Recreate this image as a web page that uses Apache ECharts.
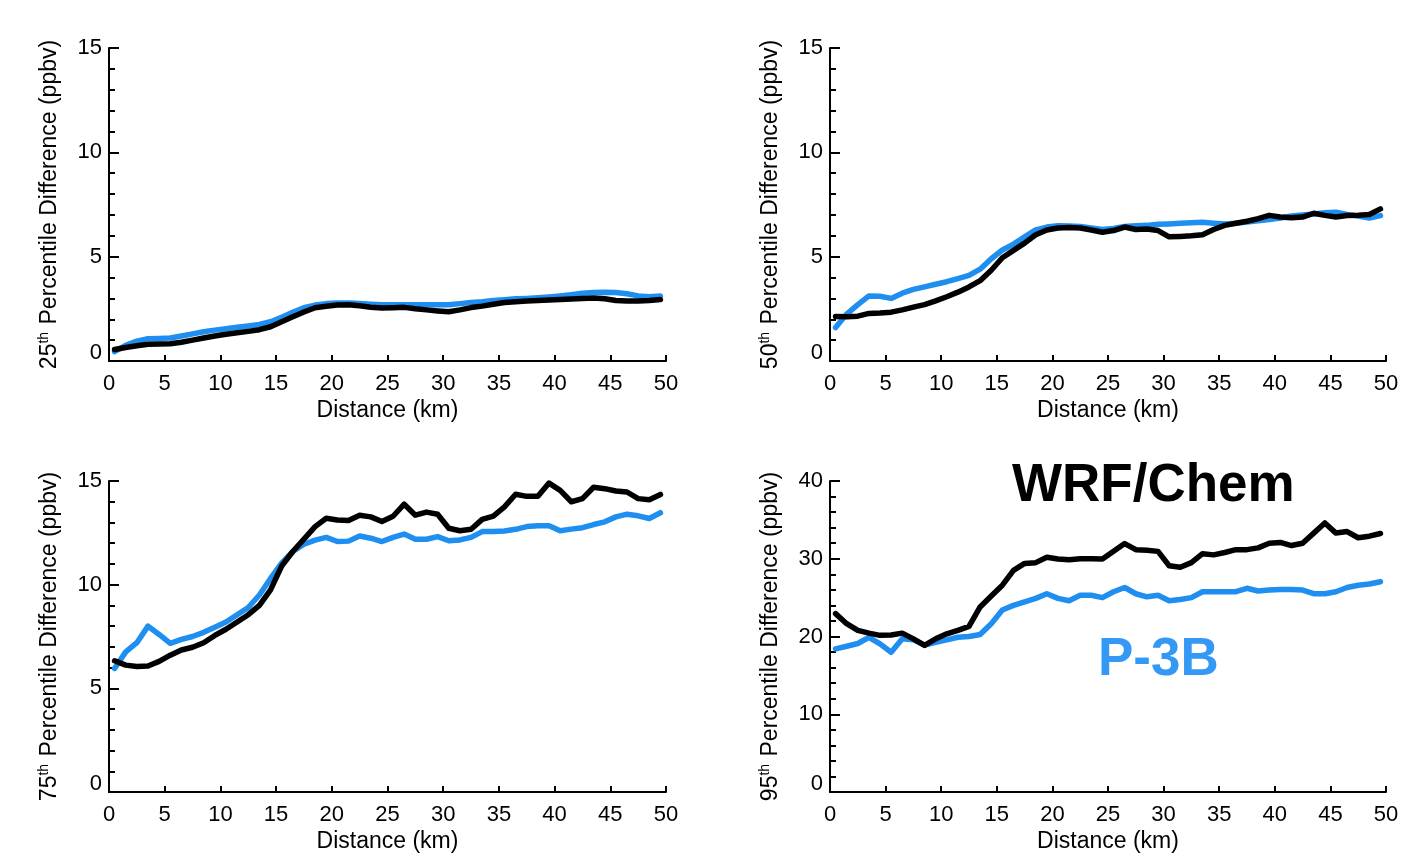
<!DOCTYPE html>
<html>
<head>
<meta charset="utf-8">
<script src="https://cdn.jsdelivr.net/npm/echarts@6/dist/echarts.min.js"></script>
<style>
  html, body { margin: 0; padding: 0; background: #fff; }
  #chart { width: 1413px; height: 854px; }
</style>
</head>
<body>
<div id="chart"></div>
<script>
// Distance from source (km), one sample per 1-km bin
const distanceKm = [0.5, 1.5, 2.5, 3.5, 4.5, 5.5, 6.5, 7.5, 8.5, 9.5,
  10.5, 11.5, 12.5, 13.5, 14.5, 15.5, 16.5, 17.5, 18.5, 19.5,
  20.5, 21.5, 22.5, 23.5, 24.5, 25.5, 26.5, 27.5, 28.5, 29.5,
  30.5, 31.5, 32.5, 33.5, 34.5, 35.5, 36.5, 37.5, 38.5, 39.5,
  40.5, 41.5, 42.5, 43.5, 44.5, 45.5, 46.5, 47.5, 48.5, 49.5];

// 25th percentile difference (ppbv)
const wrf25 = [0.55, 0.65, 0.73, 0.8, 0.82, 0.83, 0.9, 1.0, 1.1, 1.2,
  1.28, 1.35, 1.42, 1.5, 1.64, 1.88, 2.12, 2.35, 2.55, 2.62,
  2.68, 2.7, 2.65, 2.58, 2.54, 2.55, 2.57, 2.5, 2.45, 2.4,
  2.36, 2.45, 2.56, 2.63, 2.72, 2.8, 2.84, 2.87, 2.9, 2.92,
  2.95, 2.97, 3.0, 3.02, 2.98, 2.9, 2.88, 2.88, 2.9, 2.95];
const p3b25 = [0.45, 0.75, 0.95, 1.07, 1.08, 1.1, 1.2, 1.3, 1.4, 1.48,
  1.55, 1.62, 1.68, 1.75, 1.88, 2.1, 2.33, 2.55, 2.68, 2.75,
  2.78, 2.78, 2.75, 2.72, 2.7, 2.7, 2.7, 2.7, 2.7, 2.7,
  2.7, 2.75, 2.8, 2.84, 2.9, 2.94, 2.98, 3.0, 3.03, 3.07,
  3.12, 3.18, 3.25, 3.28, 3.3, 3.28, 3.22, 3.12, 3.08, 3.12];

// 50th percentile difference (ppbv)
const wrf50 = [2.13, 2.12, 2.15, 2.28, 2.3, 2.34, 2.45, 2.58, 2.7, 2.88,
  3.08, 3.3, 3.55, 3.85, 4.35, 4.95, 5.3, 5.65, 6.05, 6.28,
  6.37, 6.4, 6.37, 6.28, 6.17, 6.25, 6.42, 6.3, 6.33, 6.25,
  5.95, 5.97, 6.0, 6.05, 6.3, 6.5, 6.6, 6.7, 6.82, 6.98,
  6.9, 6.87, 6.9, 7.08, 6.98, 6.9, 6.97, 6.98, 7.02, 7.29];
const p3b50 = [1.6, 2.25, 2.7, 3.12, 3.1, 3.0, 3.25, 3.43, 3.55, 3.68,
  3.8, 3.95, 4.1, 4.4, 4.9, 5.32, 5.6, 5.95, 6.28, 6.42,
  6.48, 6.47, 6.45, 6.38, 6.3, 6.35, 6.45, 6.48, 6.5, 6.55,
  6.57, 6.6, 6.62, 6.65, 6.6, 6.56, 6.6, 6.66, 6.72, 6.78,
  6.85, 6.95, 7.0, 7.05, 7.1, 7.13, 7.02, 6.95, 6.85, 6.97];

// 75th percentile difference (ppbv)
const wrf75 = [6.33, 6.12, 6.05, 6.08, 6.3, 6.6, 6.85, 6.98, 7.2, 7.55,
  7.85, 8.2, 8.55, 9.0, 9.75, 10.9, 11.6, 12.2, 12.8, 13.2,
  13.12, 13.1, 13.35, 13.27, 13.05, 13.3, 13.88, 13.35, 13.5, 13.4,
  12.72, 12.6, 12.67, 13.15, 13.31, 13.75, 14.36, 14.26, 14.26, 14.9,
  14.55, 14.0, 14.15, 14.7, 14.63, 14.52, 14.47, 14.15, 14.1, 14.35];
const p3b75 = [5.96, 6.76, 7.2, 8.0, 7.6, 7.17, 7.36, 7.5, 7.7, 7.95,
  8.2, 8.55, 8.9, 9.5, 10.3, 11.04, 11.6, 11.95, 12.15, 12.28,
  12.08, 12.1, 12.35, 12.24, 12.08, 12.28, 12.44, 12.19, 12.19, 12.32,
  12.12, 12.16, 12.28, 12.56, 12.56, 12.59, 12.67, 12.8, 12.84, 12.84,
  12.6, 12.68, 12.75, 12.9, 13.03, 13.27, 13.4, 13.32, 13.19, 13.47];

// 95th percentile difference (ppbv)
const wrf95 = [22.94, 21.65, 20.78, 20.43, 20.15, 20.2, 20.43, 19.7, 18.85, 19.7,
  20.35, 20.78, 21.3, 23.8, 25.2, 26.6, 28.5, 29.4, 29.5, 30.2,
  29.96, 29.87, 30.0, 30.0, 29.96, 30.95, 31.95, 31.17, 31.08, 30.95,
  29.1, 28.9, 29.5, 30.65, 30.5, 30.8, 31.17, 31.17, 31.4, 32.0,
  32.1, 31.7, 32.0, 33.3, 34.6, 33.3, 33.5, 32.7, 32.9, 33.25];
const p3b95 = [18.4, 18.75, 19.1, 19.9, 19.05, 17.97, 19.7, 19.57, 18.9, 19.26,
  19.57, 19.9, 20.0, 20.26, 21.65, 23.4, 24.0, 24.46, 24.9, 25.5,
  24.9, 24.6, 25.3, 25.3, 25.0, 25.76, 26.3, 25.5, 25.1, 25.3,
  24.6, 24.76, 25.0, 25.76, 25.76, 25.76, 25.76, 26.2, 25.85, 25.97,
  26.06, 26.06, 25.97, 25.5, 25.5, 25.76, 26.3, 26.6, 26.75, 27.05];

// Axis ticks
const xTicks = [0, 5, 10, 15, 20, 25, 30, 35, 40, 45, 50];
const yMajor15 = [0, 5, 10, 15];
const yMinor15 = [1, 2, 3, 4, 6, 7, 8, 9, 11, 12, 13, 14];
const yMajor40 = [0, 10, 20, 30, 40];
const yMinor40 = [2, 4, 6, 8, 12, 14, 16, 18, 22, 24, 26, 28, 32, 34, 36, 38];

const seriesNames = ['P-3B', 'WRF/Chem'];
const percentiles = ['25', '50', '75', '95'];

const FONT = "'Liberation Sans', Arial, Helvetica, sans-serif";
const BLACK = '#000000';
const BLUE = '#1e8ef0';
const TICK_FS = 22;
const NAME_FS = 23;

const panels = [
  { grid: { left: 109, top: 48, width: 557, height: 313 }, ymax: 15, major: yMajor15, minor: yMinor15, pct: percentiles[0], wrf: wrf25, p3b: p3b25 },
  { grid: { left: 830, top: 48, width: 556, height: 313 }, ymax: 15, major: yMajor15, minor: yMinor15, pct: percentiles[1], wrf: wrf50, p3b: p3b50 },
  { grid: { left: 109, top: 481, width: 557, height: 312 }, ymax: 15, major: yMajor15, minor: yMinor15, pct: percentiles[2], wrf: wrf75, p3b: p3b75 },
  { grid: { left: 830, top: 481, width: 556, height: 312 }, ymax: 40, major: yMajor40, minor: yMinor40, pct: percentiles[3], wrf: wrf95, p3b: p3b95 }
];

const toPairs = (vals) => distanceKm.map((d, i) => [d, vals[i]]);

const grid = [], xAxis = [], yAxis = [], series = [];

panels.forEach((p, i) => {
  grid.push(Object.assign({ containLabel: false }, p.grid));

  xAxis.push({
    gridIndex: i,
    type: 'value',
    min: 0, max: 50, interval: 5,
    name: 'Distance (km)',
    nameLocation: 'middle',
    nameGap: 38,
    nameTextStyle: { fontFamily: FONT, fontSize: NAME_FS, color: BLACK },
    axisLine: { show: true, onZero: false, lineStyle: { color: BLACK, width: 2 } },
    axisTick: { show: true, inside: true, length: 6, lineStyle: { color: BLACK, width: 2 } },
    axisLabel: { show: true, margin: 12, fontFamily: FONT, fontSize: TICK_FS, color: BLACK,
      customValues: xTicks },
    splitLine: { show: false }
  });

  // main y axis: line, major ticks and labels
  yAxis.push({
    gridIndex: i,
    type: 'value',
    position: 'left',
    min: 0, max: p.ymax,
    name: '{n|' + p.pct + '}{s|th}{n| Percentile Difference (ppbv)}',
    nameLocation: 'middle',
    nameGap: 46,
    nameTextStyle: {
      fontFamily: FONT, fontSize: NAME_FS, color: BLACK,
      rich: {
        n: { fontFamily: FONT, fontSize: NAME_FS, color: BLACK, lineHeight: 26 },
        s: { fontFamily: FONT, fontSize: 14, color: BLACK, verticalAlign: 'top', lineHeight: 26, padding: [0, 1, 10, 0] }
      }
    },
    axisLine: { show: true, onZero: false, lineStyle: { color: BLACK, width: 2 } },
    axisTick: { show: true, inside: true, length: 10, customValues: p.major, lineStyle: { color: BLACK, width: 2 } },
    axisLabel: {
      show: true, margin: 7, fontFamily: FONT, fontSize: TICK_FS, color: BLACK,
      customValues: p.major,
      formatter: (v) => (v === 0 ? '{z|0}' : String(v)),
      rich: { z: { fontFamily: FONT, fontSize: TICK_FS, color: BLACK, padding: [0, 0, 16, 0] } }
    },
    splitLine: { show: false }
  });

  // companion y axis carrying the minor ticks only
  yAxis.push({
    gridIndex: i,
    type: 'value',
    position: 'left',
    offset: 0,
    min: 0, max: p.ymax,
    axisLine: { show: false },
    axisTick: { show: true, inside: true, length: 6, customValues: p.minor, lineStyle: { color: BLACK, width: 2 } },
    axisLabel: { show: false },
    splitLine: { show: false }
  });

  series.push({
    name: seriesNames[0],
    type: 'line',
    xAxisIndex: i, yAxisIndex: i * 2,
    data: toPairs(p.p3b),
    showSymbol: false,
    lineStyle: { color: BLUE, width: 5.5, join: 'round', cap: 'round' },
    z: 2
  });
  series.push({
    name: seriesNames[1],
    type: 'line',
    xAxisIndex: i, yAxisIndex: i * 2,
    data: toPairs(p.wrf),
    showSymbol: false,
    lineStyle: { color: BLACK, width: 5.5, join: 'round', cap: 'round' },
    z: 3
  });
});

const chart = echarts.init(document.getElementById('chart'), null, { renderer: 'canvas' });
chart.setOption({
  backgroundColor: '#ffffff',
  animation: false,
  grid, xAxis, yAxis, series,
  graphic: [
    { type: 'text', left: 1012, top: 460,
      style: { text: seriesNames[1], fontFamily: FONT, fontWeight: 'bold', fontSize: 53, fill: BLACK } },
    { type: 'text', left: 1098, top: 634,
      style: { text: seriesNames[0], fontFamily: FONT, fontWeight: 'bold', fontSize: 53, fill: '#3399f5' } }
  ]
});
</script>
</body>
</html>
